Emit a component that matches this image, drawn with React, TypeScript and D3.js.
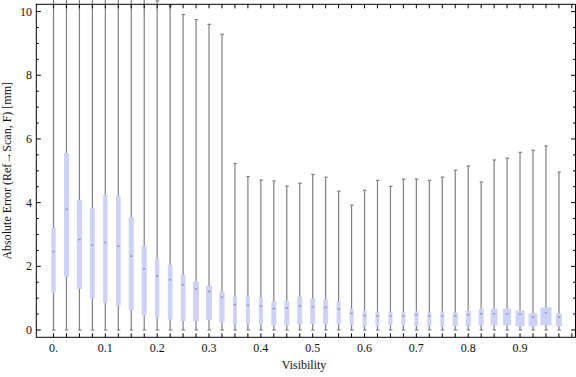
import * as d3 from 'd3';

// visibility bins (box centres)
const visibility = [
  0, 0.025, 0.05, 0.075, 0.1, 0.125, 0.15, 0.175, 0.2, 0.225,
  0.25, 0.275, 0.3, 0.325, 0.35, 0.375, 0.4, 0.425, 0.45, 0.475,
  0.5, 0.525, 0.55, 0.575, 0.6, 0.625, 0.65, 0.675, 0.7, 0.725,
  0.75, 0.775, 0.8, 0.825, 0.85, 0.875, 0.9, 0.925, 0.95, 0.975,
];

// quartiles / median / whiskers in mm
const q1 = [
  1.17, 1.67, 1.29, 1.0, 0.85, 0.76, 0.63, 0.46, 0.4, 0.33,
  0.28, 0.28, 0.31, 0.25, 0.18, 0.18, 0.18, 0.15, 0.15, 0.18,
  0.18, 0.18, 0.18, 0.15, 0.12, 0.12, 0.15, 0.15, 0.12, 0.12,
  0.12, 0.12, 0.12, 0.15, 0.15, 0.15, 0.12, 0.12, 0.15, 0.12,
];
const median = [
  2.46, 3.79, 2.84, 2.67, 2.75, 2.63, 2.32, 1.92, 1.69, 1.58,
  1.42, 1.29, 1.21, 1.03, 0.8, 0.77, 0.75, 0.67, 0.69, 0.76,
  0.73, 0.71, 0.66, 0.52, 0.45, 0.44, 0.44, 0.44, 0.48, 0.44,
  0.44, 0.44, 0.48, 0.51, 0.51, 0.51, 0.51, 0.41, 0.54, 0.41,
];
const q3 = [
  3.2, 5.56, 4.09, 3.83, 4.25, 4.22, 3.55, 2.65, 2.24, 2.05,
  1.74, 1.52, 1.39, 1.21, 1.05, 1.05, 1.02, 0.89, 0.92, 1.05,
  0.99, 0.96, 0.89, 0.67, 0.61, 0.58, 0.58, 0.58, 0.58, 0.55,
  0.58, 0.55, 0.61, 0.67, 0.67, 0.67, 0.61, 0.52, 0.71, 0.52,
];
const whiskerHi = [
  11.5, 11.5, 11.5, 11.5, 11.5, 11.5, 11.5, 11.5, 10.34, 10.18,
  9.91, 9.75, 9.6, 9.29, 5.23, 4.82, 4.71, 4.68, 4.52, 4.61,
  4.89, 4.8, 4.36, 3.92, 4.39, 4.7, 4.51, 4.74, 4.74, 4.7,
  4.8, 5.02, 5.15, 4.65, 5.34, 5.4, 5.58, 5.64, 5.78, 4.96,
];
const whiskerLo = new Array(visibility.length).fill(0);

// relative sample count per bin (drives box width)
const relCount = [
  43, 50, 50, 50, 43, 47, 50, 50, 43, 47,
  47, 60, 60, 53, 40, 40, 40, 50, 50, 50,
  50, 50, 40, 40, 40, 40, 40, 40, 40, 40,
  40, 50, 50, 50, 70, 80, 90, 87, 110, 60,
];

const xTickLabels = ['0.', '0.1', '0.2', '0.3', '0.4', '0.5', '0.6', '0.7', '0.8', '0.9'];
const yTickLabels = [0, 2, 4, 6, 8, 10];

const W = 576;
const H = 377;
const FONT = '"Liberation Serif", "DejaVu Serif", serif';

export default function App() {
  const left = 36.3;
  const right = 575.5;
  const top = 4.3;
  const bottom = 337.3;

  const x = d3.scaleLinear().domain([-0.0332, 1.007]).range([left, right]);
  const y = d3.scaleLinear().domain([-0.23, 10.23]).range([bottom, top]);
  const wScale = d3.scaleLinear().domain([0, 110]).range([0, 11]);

  const yMinor = d3.range(0, 10.01, 0.5).filter(v => v % 2 !== 0);
  const xTickVals = visibility.concat([1.0]);

  return (
    <svg width={W} height={H} style={{ position: 'absolute', left: 0, top: 0, fontFamily: FONT }}>
      <rect width={W} height={H} fill="white" />

      {/* whiskers */}
      {visibility.map((v, i) => (
        <g key={'w' + i} stroke="#808080" strokeWidth={1.2}>
          <line x1={x(v)} x2={x(v)} y1={y(whiskerLo[i])} y2={y(whiskerHi[i])} />
          <line x1={x(v) - 1.5} x2={x(v) + 2} y1={y(whiskerHi[i])} y2={y(whiskerHi[i])} />
          <line x1={x(v) - 1.5} x2={x(v) + 2} y1={y(whiskerLo[i])} y2={y(whiskerLo[i])} />
        </g>
      ))}

      {/* boxes */}
      {visibility.map((v, i) => {
        const bw = wScale(relCount[i]);
        return (
          <g key={'b' + i}>
            <rect
              x={x(v) - bw / 2}
              y={y(q3[i])}
              width={bw}
              height={y(q1[i]) - y(q3[i])}
              fill="#cdd2f6"
            />
            <rect x={x(v) - 1.2} y={y(median[i]) - 0.8} width={2.4} height={1.6} fill="#9a9cc0" />
          </g>
        );
      })}

      {/* frame */}
      <rect x={left} y={top} width={right - left} height={bottom - top} fill="none" stroke="#000" strokeWidth={1} />

      {/* x ticks on bottom and top */}
      {xTickVals.map((v, i) => (
        <g key={'xt' + i} stroke="#000" strokeWidth={1}>
          <line x1={x(v)} x2={x(v)} y1={bottom} y2={bottom - 4} />
          <line x1={x(v)} x2={x(v)} y1={top} y2={top + 4} />
        </g>
      ))}
      {xTickLabels.map((t, i) => (
        <text key={'xl' + i} x={x(i * 0.1)} y={352} fontSize={12} textAnchor="middle" fill="#111">
          {t}
        </text>
      ))}

      {/* y ticks */}
      {yTickLabels.map(v => (
        <g key={'yt' + v}>
          <line x1={left} x2={left + 4.5} y1={y(v)} y2={y(v)} stroke="#000" />
          <line x1={right} x2={right - 4.5} y1={y(v)} y2={y(v)} stroke="#000" />
          <text x={32} y={y(v) + 4} fontSize={12} textAnchor="end" fill="#111">
            {v}
          </text>
        </g>
      ))}
      {yMinor.map(v => (
        <g key={'ym' + v} stroke="#000">
          <line x1={left} x2={left + 2.5} y1={y(v)} y2={y(v)} />
          <line x1={right} x2={right - 2.5} y1={y(v)} y2={y(v)} />
        </g>
      ))}

      {/* axis titles */}
      <text x={304} y={369} fontSize={12} textAnchor="middle" fill="#111">
        Visibility
      </text>
      <text
        transform={`translate(11,${(top + bottom) / 2}) rotate(-90)`}
        fontSize={12}
        textAnchor="middle"
        fill="#111"
      >
        Absolute Error (Ref→Scan, F) [mm]
      </text>
    </svg>
  );
}
